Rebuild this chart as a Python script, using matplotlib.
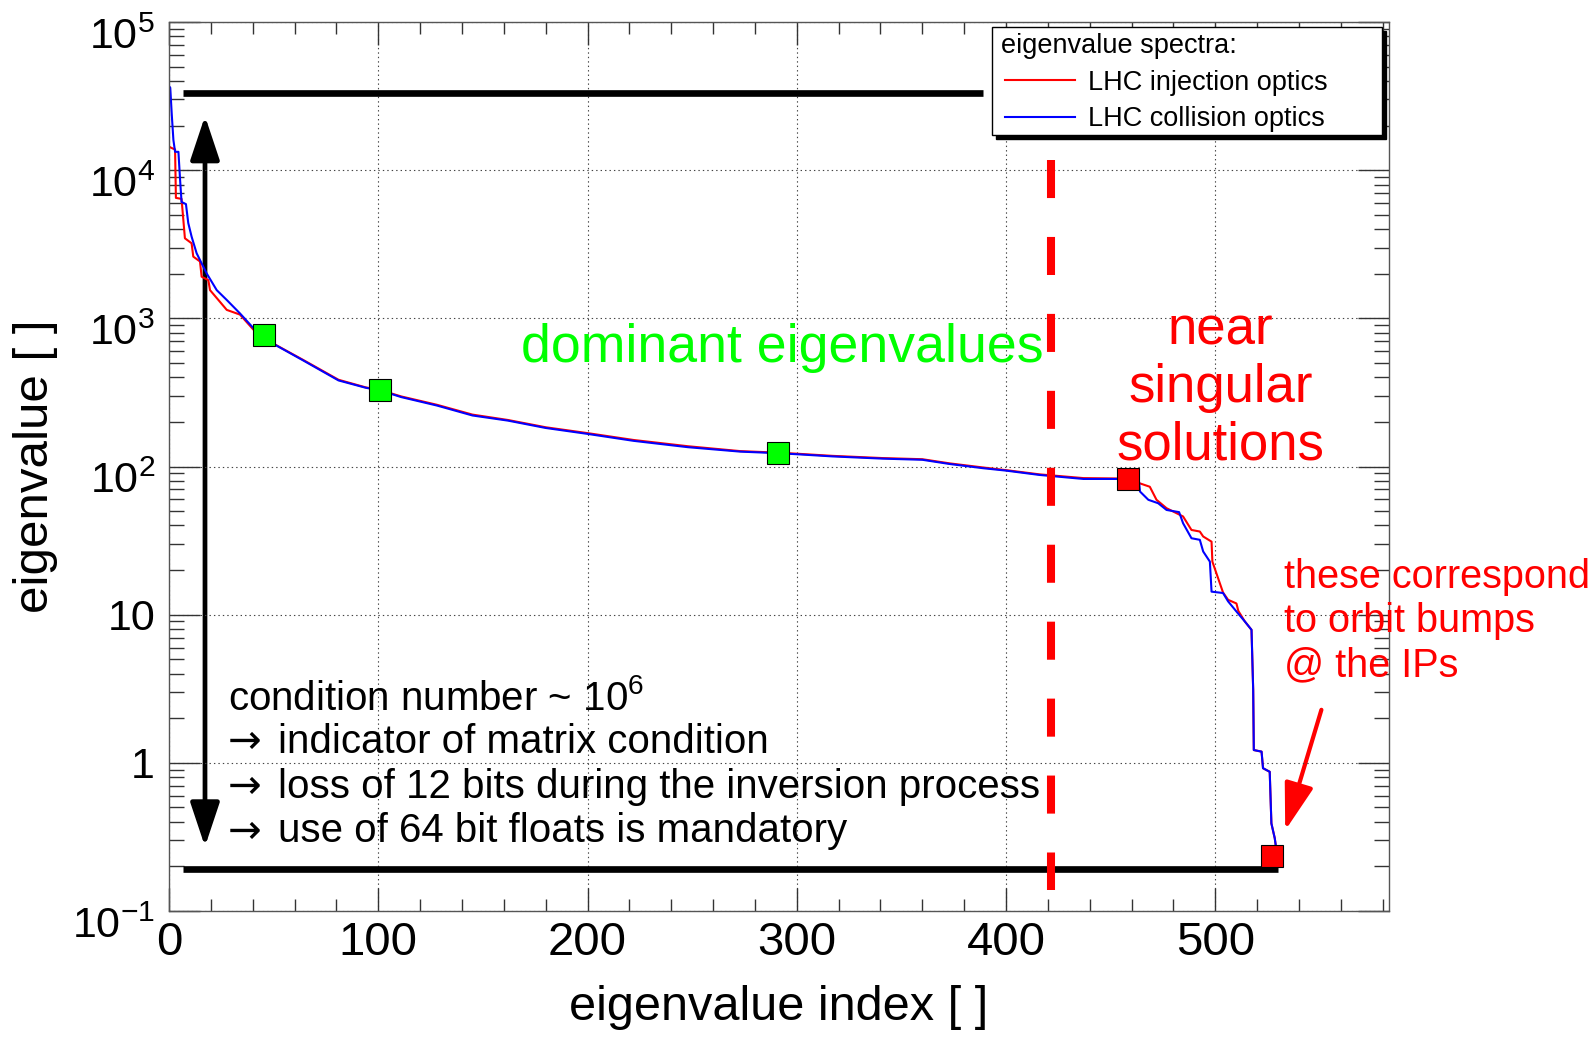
import matplotlib.pyplot as plt
import numpy as np
from matplotlib.patches import FancyArrowPatch, Rectangle
from matplotlib.lines import Line2D
from matplotlib.transforms import ScaledTranslation
from matplotlib.ticker import FixedLocator, FixedFormatter, MultipleLocator, LogLocator, NullFormatter

plt.rcParams['font.family'] = ['Liberation Sans', 'DejaVu Sans']
plt.rcParams['mathtext.fontset'] = 'custom'
plt.rcParams['mathtext.rm'] = 'Liberation Sans'
plt.rcParams['mathtext.it'] = 'Liberation Sans:italic'
plt.rcParams['mathtext.bf'] = 'Liberation Sans:bold'
plt.rcParams['lines.scale_dashes'] = False

# eigenvalue spectra (index, eigenvalue)
inj_idx = [0, 1.8, 2.9, 3.3, 6.0, 7.6, 10.8, 11.6, 14.8, 15.6, 18.8, 19.6, 23.6, 27.6,
           33.9, 40.3, 45.5, 51, 64, 81, 94, 101, 111, 128, 145, 162, 180, 200, 222,
           248, 273, 291, 300, 317, 341, 360, 373, 389, 400, 416, 437, 453, 458, 463.9,
           468.7, 471.9, 476.7, 484.6, 488.6, 492.6, 494.2, 498.2, 498.6, 503.7, 506.1,
           510.1, 511, 514.1, 517.3, 518.1, 518.4, 522.1, 522.8, 526, 526.8, 528.4, 529]
inj_val = [14400, 14000, 13800, 6500, 6400, 3470, 3210, 2610, 2420, 1910, 1810, 1550, 1330, 1140,
           1060, 840, 770, 662, 525, 385, 342, 328, 297, 261, 224, 206, 184, 168, 151,
           137, 127, 124, 122, 118, 114, 112, 105, 98.5, 94.5, 88.5, 83.5, 83, 82.5, 77,
           73, 59.6, 52.3, 46, 37.3, 36.4, 33.7, 31.1, 22.8, 14.1, 12.6,
           11.9, 10.6, 9.0, 7.9, 3.1, 1.22, 1.19, 0.92, 0.87, 0.39, 0.31, 0.27]

col_idx = [0, 0.6, 1.3, 2.1, 2.9, 4.5, 5.3, 6.0, 8.1, 9.2, 10.8, 13.2, 15.6, 18.0, 22.8,
           27.6, 33.9, 40.3, 45.5, 51, 64, 81, 94, 101, 111, 128, 145, 162, 180, 200, 222,
           248, 273, 291, 300, 317, 341, 360, 373, 389, 400, 416, 437, 453, 458, 463.5,
           464, 468, 472.7, 476.7, 482.7, 484.6, 488.6, 492.6, 494.2, 497.4, 498.2, 503.7,
           506.1, 510.1, 514.1, 517.3, 518.1, 518.4, 522.1, 522.8, 526, 526.8, 528.4, 529]
col_val = [37000, 36000, 24000, 16000, 13300, 13300, 8600, 6100, 5900, 4400, 3560, 2750, 2350, 2010, 1550,
           1330, 1080, 860, 776, 659, 521, 381, 340, 326, 294, 258, 221, 204, 182, 166, 149,
           135, 126, 123, 121, 117, 113, 111, 104, 97.4, 93.8, 87.7, 82.4, 82.4, 82, 80,
           67.8, 59.6, 56.5, 50.9, 49.2, 41.4, 32.8, 32, 26.7, 22.8, 14.3, 14,
           12.3, 10.5, 9.0, 7.9, 3.1, 1.22, 1.19, 0.92, 0.87, 0.39, 0.31, 0.27]

# highlighted eigenvalues
dominant_idx = [45.5, 101, 291]
dominant_val = [776, 327, 124]
singular_idx = [458.3, 527.3]
singular_val = [82.5, 0.236]

# condition number band and cut
band_top, band_top_x = 3.33e4, [6.5, 388.8]
band_bottom, band_bottom_x = 0.192, [6.7, 530]
arrow_x, arrow_top, arrow_bottom = 17.2, 2.32e4, 0.272
cut_x, cut_top, cut_bottom = 421.4, 1.17e4, 0.139

x_ticks = [0, 100, 200, 300, 400, 500]
y_ticks = [1e-1, 1, 10, 1e2, 1e3, 1e4, 1e5]
y_labels = [r'$\mathrm{10^{-1}}$', '1', '10', r'$\mathrm{10^{2}}$', r'$\mathrm{10^{3}}$',
            r'$\mathrm{10^{4}}$', r'$\mathrm{10^{5}}$']

note_head = 'condition number ~ $\\mathrm{10^{6}}$'
note_lines = ['indicator of matrix condition',
              'loss of 12 bits during the inversion process',
              'use of 64 bit floats is mandatory']

W, H = 1595, 1037
fig = plt.figure(figsize=(W / 100, H / 100), dpi=100)
ax = fig.add_axes([169 / W, 1 - 911 / H, 1220 / W, 889 / H])

ax.set_yscale('log')
ax.set_xlim(0, 583)
ax.set_ylim(1e-1, 1e5)

# ROOT-like ticks on all sides
ax.xaxis.set_major_locator(FixedLocator(x_ticks))
ax.xaxis.set_minor_locator(MultipleLocator(20))
ax.yaxis.set_major_locator(FixedLocator(y_ticks))
ax.yaxis.set_major_formatter(FixedFormatter(y_labels))
ax.yaxis.set_minor_locator(LogLocator(base=10, subs=np.arange(2, 10)))
ax.yaxis.set_minor_formatter(NullFormatter())
ax.tick_params(which='both', direction='in', top=True, right=True, color='#333333', width=1.0)
ax.tick_params(axis='x', which='major', length=16.5, labelsize=34, pad=7)
ax.tick_params(axis='x', which='minor', length=8.7)
ax.tick_params(axis='y', which='major', length=22, labelsize=31, pad=10)
ax.tick_params(axis='y', which='minor', length=11)
for s in ax.spines.values():
    s.set_color('#555555')
    s.set_linewidth(1.0)
ax.grid(True, which='major', linestyle=(0, (1, 2.2)), color='#444444', linewidth=0.8)

# labels with exponent sit a bit lower, like in ROOT
shift = ScaledTranslation(0, -11 / 100, fig.dpi_scale_trans)
for tick, lab in zip(ax.yaxis.get_major_ticks(len(y_ticks)), y_labels):
    if '^' in lab:
        tick.label1.set_transform(tick.label1.get_transform() + shift)

# spectra
ax.plot(inj_idx, inj_val, color='#ff0000', lw=1.5)
ax.plot(col_idx, col_val, color='#0000ff', lw=1.5)

# band lines
ax.plot(band_top_x, [band_top, band_top], color='k', lw=4.8, solid_capstyle='butt')
ax.plot(band_bottom_x, [band_bottom, band_bottom], color='k', lw=4.8, solid_capstyle='butt')

# dashed cut
ax.plot([cut_x, cut_x], [cut_top, cut_bottom], color='#ff0000', lw=5.8,
        linestyle=(0, (27.4, 28)))

# condition number arrow
ax.add_patch(FancyArrowPatch((arrow_x, arrow_top), (arrow_x, arrow_bottom),
                             arrowstyle='<|-|>,head_length=2.7,head_width=0.9',
                             mutation_scale=10, lw=3.4, color='k', shrinkA=0, shrinkB=0))

# red pointer
ax.add_patch(FancyArrowPatch((550.7, 2.28), (533.4, 0.35),
                             arrowstyle='-|>,head_length=2.9,head_width=0.9',
                             mutation_scale=10, lw=3, color='#ff0000', shrinkA=0, shrinkB=0))

# markers
ax.plot(dominant_idx, dominant_val, 's', ms=16.3, mfc='#00ff00', mec='k', mew=0.8, zorder=5)
ax.plot(singular_idx, singular_val, 's', ms=16.3, mfc='#ff0000', mec='k', mew=0.8, zorder=5,
        clip_on=False)

# annotations (va='baseline' pins the last line of a multi-line text)
ax.text(168.2, 511, 'dominant eigenvalues', color='#00ff00', fontsize=38.6,
        ha='left', va='baseline')
ax.text(502.6, 111, 'near\nsingular\nsolutions', color='#ff0000', fontsize=38,
        ha='center', va='baseline', multialignment='center')
ax.text(532.7, 3.84, 'these correspond\nto orbit bumps\n@ the IPs', color='#ff0000',
        fontsize=28.5, ha='left', va='baseline')

note_y = [2.28, 1.163, 0.578, 0.29]
ax.text(28.2, note_y[0], note_head, color='k', fontsize=29, ha='left', va='baseline')
for yy, line in zip(note_y[1:], note_lines):
    ax.text(27.9, yy, '\u2192', family='DejaVu Sans', color='k', fontsize=29,
            ha='left', va='baseline')
    ax.text(52.1, yy, line, color='k', fontsize=29, ha='left', va='baseline')

# axis titles
ax.set_xlabel('eigenvalue index [ ]', fontsize=35)
ax.xaxis.set_label_coords(0.5, -0.083)
ax.set_ylabel('eigenvalue [ ]', fontsize=35.5)
ax.yaxis.set_label_coords(-0.091, 0.5)


# legend box (ROOT style with shadow), pixel coords from top-left
def fx(px):
    return px / W


def fy(py):
    return 1 - py / H


fig.patches.append(Rectangle((fx(995.7), fy(139)), fx(390), 108.3 / H, transform=fig.transFigure,
                             facecolor='k', edgecolor='k', zorder=10))
fig.patches.append(Rectangle((fx(991.7), fy(135)), fx(390), 108.3 / H, transform=fig.transFigure,
                             facecolor='white', edgecolor='k', lw=1.0, zorder=11))
fig.text(fx(1000.7), fy(53.3), 'eigenvalue spectra:', fontsize=19.5, va='baseline', zorder=12)
fig.lines.append(Line2D([fx(1005), fx(1075)], [fy(80), fy(80)], color='#ff0000', lw=1.5,
                        transform=fig.transFigure, zorder=12))
fig.lines.append(Line2D([fx(1005), fx(1075)], [fy(116.7), fy(116.7)], color='#0000ff', lw=1.5,
                        transform=fig.transFigure, zorder=12))
fig.text(fx(1088), fy(90), 'LHC injection optics', fontsize=19.5, va='baseline', zorder=12)
fig.text(fx(1088), fy(126), 'LHC collision optics', fontsize=19.5, va='baseline', zorder=12)

plt.savefig('out.png', dpi=100)
